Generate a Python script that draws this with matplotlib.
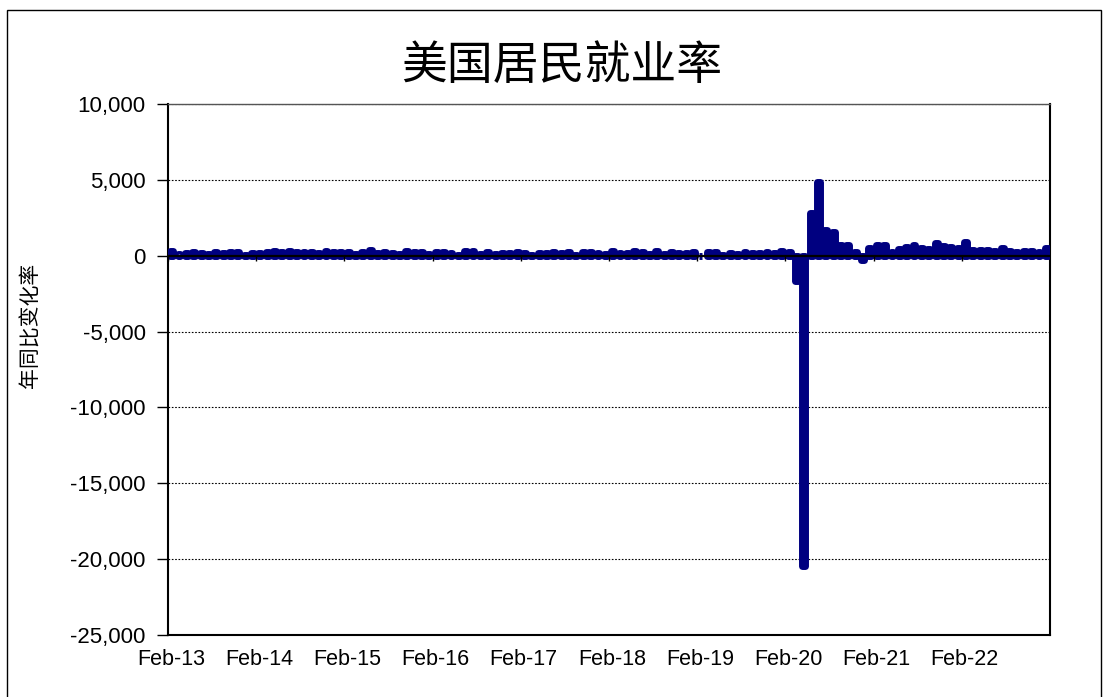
import matplotlib
matplotlib.use("Agg")
import matplotlib.pyplot as plt
from matplotlib.patches import Rectangle
from matplotlib.ticker import FuncFormatter
import numpy as np

plt.rcParams['font.family'] = ['Liberation Sans', 'Noto Sans CJK SC', 'DejaVu Sans']
plt.rcParams['axes.unicode_minus'] = False

# Monthly change (thousands), Feb-2013 .. Jan-2023
values_2013 = [287, 138, 193, 214, 181, 126, 265, 187, 226, 273, 47]
values_2014 = [187, 168, 272, 330, 236, 286, 249, 214, 256, 200, 312, 255]
values_2015 = [234, 238, 86, 262, 344, 206, 254, 157, 100, 321, 252, 239]
values_2016 = [126, 237, 225, 153, 43, 297, 291, 135, 249, 124, 164, 155]
values_2017 = [259, 195, 73, 175, 155, 239, 187, 221, 18, 264, 216, 171]
values_2018 = [140, 330, 182, 196, 281, 222, 102, 286, 90, 249, 165, 208]
values_2019 = [264, 1, 215, 275, 31, 199, 120, 214, 155, 194, 254, 155]
values_2020 = [289, 251, -1683, -20471, 2833, 4846, 1726, 1583, 716, 680, 264, -268]
values_2021 = [520, 710, 704, 263, 447, 557, 689, 517, 424, 807, 672, 588]
values_2022 = [504, 904, 398, 368, 386, 293, 537, 315, 269, 324, 290, 239]
values_2023 = [504]

values = (values_2013 + values_2014 + values_2015 + values_2016 + values_2017 +
          values_2018 + values_2019 + values_2020 + values_2021 + values_2022 + values_2023)

tick_labels = ["Feb-13", "Feb-14", "Feb-15", "Feb-16", "Feb-17",
               "Feb-18", "Feb-19", "Feb-20", "Feb-21", "Feb-22"]
y_ticks = [10000, 5000, 0, -5000, -10000, -15000, -20000, -25000]

title = "美国居民就业率"
ylabel = "年同比变化率"

W, H = 1109, 697
fig = plt.figure(figsize=(W / 100, H / 100), dpi=100)
ax = fig.add_axes([168 / W, 1 - 635 / H, (1050 - 168) / W, (635 - 104) / H])

n = len(values)
x = np.arange(n) + 0.5
navy = '#000080'
ax.bar(x, values, width=0.4, color=navy, edgecolor=navy, linewidth=5.0,
       joinstyle='round', zorder=3)

ax.set_xlim(0, n)
ax.set_ylim(-25000, 10000)
ax.set_yticks(y_ticks)
ax.yaxis.set_major_formatter(FuncFormatter(lambda v, p: f"{int(v):,}"))
ax.tick_params(axis='y', direction='out', length=8, width=1, labelsize=16, pad=8)

xt = np.arange(0, n, 12)
ax.set_xticks(xt + 0.4)
ax.set_xticklabels(tick_labels)
ax.tick_params(axis='x', length=0, labelsize=15.5, pad=10)

for yv in y_ticks:
    if yv != 0:
        ax.axhline(yv, color='black', linestyle=(0, (1.5, 1.5)), linewidth=0.8, zorder=1)

ax.axhline(0, color='black', linewidth=1.6, zorder=4)
ax.vlines(xt, -350, 0, color='black', linewidth=1.0, zorder=4)

for s in ['left', 'bottom', 'right']:
    ax.spines[s].set_color('black')
    ax.spines[s].set_linewidth(1.5)
ax.spines['top'].set_color('#555555')
ax.spines['top'].set_linewidth(1.0)

fig.text(31 / W, 1 - 325 / H, ylabel, rotation=90, ha='center', va='center',
         fontsize=15, family=['Noto Sans CJK SC', 'DejaVu Sans'])

fig.text(562 / W, 1 - 66 / H, title, ha='center', va='center', fontsize=33,
         family=['Noto Sans CJK SC', 'DejaVu Sans'], style='italic')

fig.patches.append(Rectangle((7 / W, -0.02), (1101 - 7) / W, 1 - 10 / H + 0.02,
                             transform=fig.transFigure, fill=False,
                             edgecolor='black', linewidth=1.0))

fig.savefig("out.png", dpi=100)
